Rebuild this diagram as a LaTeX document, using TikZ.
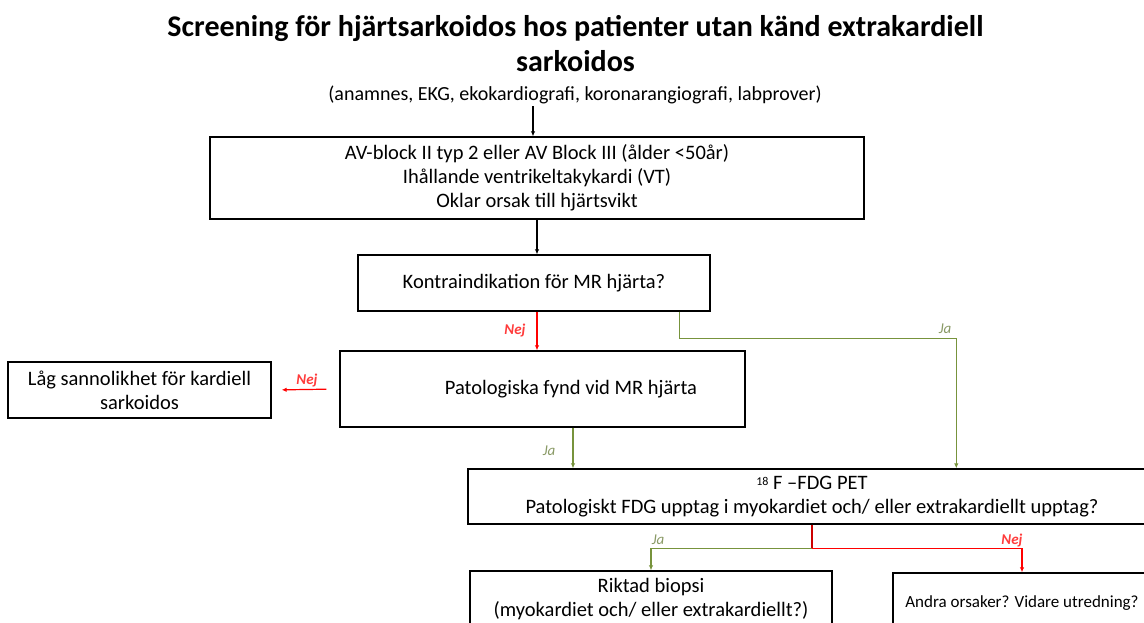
\documentclass[tikz,border=0pt]{standalone}
\usepackage{fontspec}
\setmainfont{Carlito}
\usetikzlibrary{arrows.meta,calc}

\definecolor{jagreen}{HTML}{77933C}
\definecolor{jalabel}{HTML}{8A9A66}
\definecolor{nejred}{HTML}{FF0000}
\definecolor{nejlabel}{HTML}{FF3C3C}

\tikzset{
  box/.style={draw, line width=1.4pt, inner sep=0pt, align=center,
    font=\fontsize{20.5}{24}\selectfont},
  plain/.style={inner sep=0pt, align=center},
  tip/.style={-{Latex[length=5pt,width=4.5pt]}},
  arrowline/.style={tip, line width=1.2pt},
  jaline/.style={arrowline, draw=jagreen},
  nejline/.style={arrowline, draw=nejred},
  jatext/.style={font=\fontsize{15}{16}\selectfont\itshape, text=jalabel, inner sep=1pt},
  nejtext/.style={font=\fontsize{15}{16}\selectfont\itshape\bfseries, text=nejlabel, inner sep=1pt}
}

\begin{document}
\begin{tikzpicture}[x=1pt,y=-1pt]

  \useasboundingbox[fill=white] (0,0) rectangle (1144,622);
  \clip (0,0) rectangle (1144,622);

  % title and subtitle
  \node[plain, font=\fontsize{30}{35}\selectfont\bfseries] (title) at (575.5,44)
    {Screening för hjärtsarkoidos hos patienter utan känd extrakardiell\\sarkoidos};
  \node[plain, font=\fontsize{20}{22}\selectfont] (sub) at (575,95)
    {(anamnes, EKG, ekokardiografi, koronarangiografi, labprover)};
  \coordinate (subarrow) at (533,106);

  % boxes
  \node[box, minimum width=654, minimum height=82] (indik) at (537,178)
    {AV-block II typ 2 eller AV Block III (ålder <50år)\\
     Ihållande ventrikeltakykardi (VT)\\
     Oklar orsak till hjärtsvikt};
  \node[box, minimum width=352, minimum height=56] (kontra) at (534,283)
    {Kontraindikation för MR hjärta?};
  \node[box, minimum width=405, minimum height=76] (mr) at (542.5,389) {};
  \node[plain, font=\fontsize{20.5}{24}\selectfont] (mrtext) at (571,389)
    {Patologiska fynd vid MR hjärta};
  \node[box, minimum width=263, minimum height=56] (low) at (139.5,390)
    {Låg sannolikhet för kardiell\\sarkoidos};
  \node[box, minimum width=688, minimum height=55] (pet) at (812,496.5)
    {{\fontsize{12}{12}\selectfont\raisebox{4pt}{18}} F –FDG PET\\
     Patologiskt FDG upptag i myokardiet och/ eller extrakardiellt upptag?};
  \node[box, minimum width=362, minimum height=56] (biop) at (651,599)
    {Riktad biopsi\\(myokardiet och/ eller extrakardiellt?)};
  \node[box, minimum width=258, minimum height=60, font=\fontsize{17}{20}\selectfont] (other) at (1022,603)
    {Andra orsaker? Vidare utredning?};

  % connectors
  \draw[arrowline] (subarrow) -- (subarrow |- indik.north);
  \draw[arrowline] (indik.south) -- (indik.south |- kontra.north);

  \draw[nejline] ($(kontra.south)+(3,0)$) -- ($(kontra.south |- mr.north)+(3,0)$);
  \node[nejtext] (nej1) at (515,330) {Nej};

  \draw[jaline] ($(kontra.south east)+(-31,0)$) -- ++(0,27) -| ($(pet.north west)+(489,0)$);
  \node[jatext] (ja1) at (945,329) {Ja};

  \draw[nejline, shorten <=13pt, shorten >=10pt] (mr.west) -- (low.east);
  \node[nejtext] (nej2) at (307,380) {Nej};

  \draw[jaline] ($(mr.south)+(30.5,0)$) -- ($(mr.south |- pet.north)+(30.5,0)$);
  \node[jatext] (ja2) at (549,451) {Ja};

  \draw[line width=1.2pt, draw=nejred!80!black] (pet.south) -- ++(0,24) coordinate (split);
  \draw[jaline] (split) -| (biop.north);
  \draw[nejline] (split) -| (other.north);
  \node[jatext] (ja3) at (658,540) {Ja};
  \node[nejtext] (nej3) at (1012,540) {Nej};

\end{tikzpicture}
\end{document}
